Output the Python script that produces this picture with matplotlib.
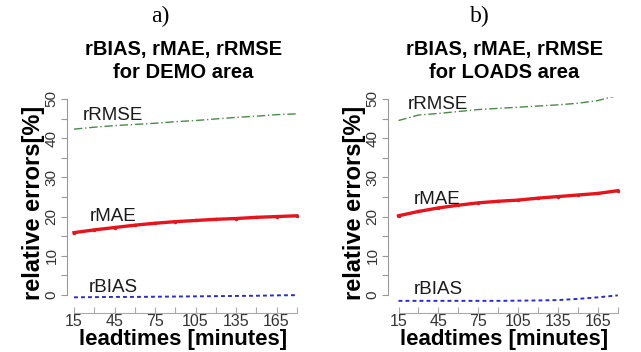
import matplotlib
matplotlib.use("Agg")
import matplotlib.pyplot as plt

plt.rcParams['font.family'] = ['Liberation Sans', 'DejaVu Sans']

# lead times in minutes
leadtimes = [15, 30, 45, 60, 75, 90, 105, 120, 135, 150, 165, 180]

# DEMO area
demo_rrmse = [42.3, 42.8, 43.2, 43.5, 43.8, 44.2, 44.5, 44.9, 45.3, 45.6, 46.0, 46.2]
demo_rmae = [15.9, 16.6, 17.2, 17.8, 18.3, 18.7, 19.0, 19.3, 19.5, 19.8, 20.0, 20.2]
demo_rbias = [-0.6, -0.55, -0.5, -0.5, -0.45, -0.4, -0.35, -0.3, -0.25, -0.2, -0.1, -0.05]

# LOADS area
loads_rrmse = [44.5, 45.9, 46.3, 46.8, 47.3, 47.6, 47.9, 48.2, 48.5, 48.9, 49.6, 50.9]
loads_rmae = [20.2, 21.3, 22.2, 22.9, 23.5, 23.9, 24.2, 24.7, 25.1, 25.5, 25.9, 26.6]
loads_rbias = [-1.5, -1.5, -1.5, -1.5, -1.5, -1.5, -1.45, -1.4, -1.3, -1.0, -0.6, -0.1]

xtick_labels = [15, 45, 75, 105, 135, 165]

W, H = 641, 352
fig = plt.figure(figsize=(W / 100, H / 100), dpi=100)


def draw_panel(left_px, xmin, area, rrmse, rmae, rbias, label_pos):
    """Draw one error panel, positions given in pixels"""
    right_px = left_px + 233
    top_px, bottom_px = 97, 313
    ax = fig.add_axes([left_px / W, 1 - bottom_px / H,
                       (right_px - left_px) / W, (bottom_px - top_px) / H])

    ax.plot(leadtimes, rrmse, color="#4a8a4a", lw=1.0, ls=(0, (6, 2, 1, 2)))
    ax.plot(leadtimes, rmae, color="#e8141c", lw=2.4, marker='o', ms=1.5)
    ax.plot(leadtimes, rbias, color="#2b2bd6", lw=1.4, ls=(0, (2, 1.6)))

    for name, (x, y) in zip(["rRMSE", "rMAE", "rBIAS"], label_pos):
        ax.text(x, y, name, fontsize=13.5, color="#1a1a1a", va='center', ha='left')

    ax.set_xlim(xmin, 182.4)
    ax.set_ylim(-4.6, 50.5)

    for s in ["top", "right"]:
        ax.spines[s].set_visible(False)
    ax.spines["left"].set_bounds(0, 50)
    ax.spines["bottom"].set_bounds(15, 180)
    ax.spines["left"].set_color("#999999")
    ax.spines["bottom"].set_color("#aaaaaa")

    ax.set_yticks(range(0, 51, 5))
    ax.set_yticklabels([str(v) if v % 10 == 0 else "" for v in range(0, 51, 5)],
                       rotation=90, va='center')
    ax.tick_params(axis='y', direction='out', length=4, color="#999999",
                   labelsize=11, labelcolor="#333333", pad=2)

    ax.set_xticks(leadtimes)
    ax.set_xticklabels([str(v) if v in xtick_labels else "" for v in leadtimes])
    ax.tick_params(axis='x', direction='in', length=4, color="#aaaaaa",
                   labelsize=11.5, labelcolor="#333333", pad=0.5)

    cx = (left_px + right_px) / 2
    # axis labels placed in figure pixels
    fig.text(cx / W, 1 - 339 / H, "leadtimes [minutes]", ha='center', va='center',
             fontsize=16, fontweight='bold')
    fig.text((left_px - 33) / W, 1 - 203 / H, "relative errors[%]", ha='center',
             va='center', rotation=90, fontsize=17, fontweight='bold')

    fig.text(cx / W, 1 - 61 / H, "rBIAS, rMAE, rRMSE\nfor " + area + " area",
             ha='center', va='center', fontsize=14.5, fontweight='bold', linespacing=1.25)
    return ax


draw_panel(67, 9.8, "DEMO", demo_rrmse, demo_rmae, demo_rbias,
           [(21.7, 45.9), (26.9, 19.9), (26.1, 2.0)])
draw_panel(388, 7.1, "LOADS", loads_rrmse, loads_rmae, loads_rbias,
           [(21.7, 48.7), (26.8, 24.4), (26.3, 1.3)])

fig.text(160 / W, 1 - 16 / H, "a)", ha='center', va='center', fontsize=17,
         family=['Liberation Serif', 'DejaVu Serif'])
fig.text(480 / W, 1 - 16 / H, "b)", ha='center', va='center', fontsize=17,
         family=['Liberation Serif', 'DejaVu Serif'])

fig.savefig("out.png", dpi=100)
